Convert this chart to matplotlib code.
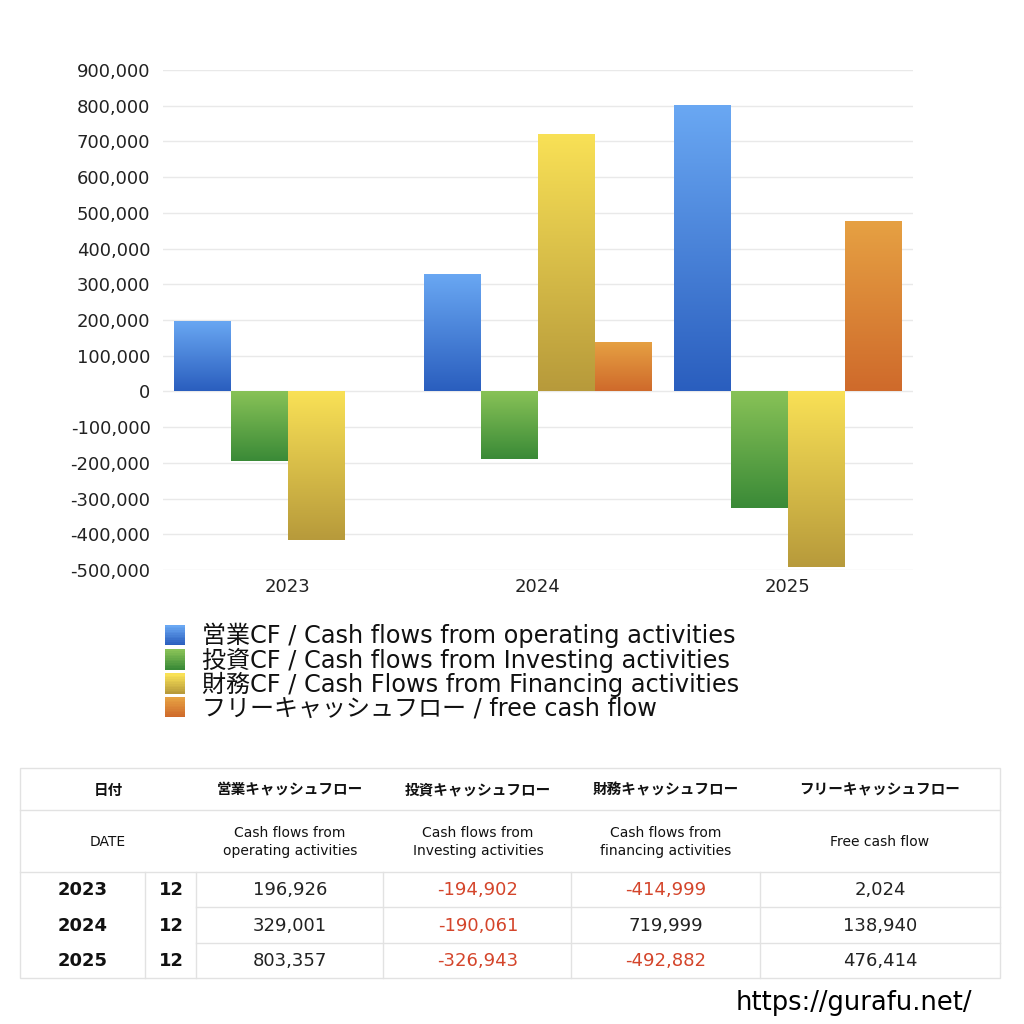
import numpy as np
import matplotlib
matplotlib.use("Agg")
import matplotlib.pyplot as plt
from matplotlib.patches import Rectangle
from matplotlib.legend_handler import HandlerBase
from matplotlib.colors import LinearSegmentedColormap, to_rgb
from matplotlib.ticker import FuncFormatter

plt.rcParams['font.family'] = ['DejaVu Sans', 'Noto Sans CJK JP']

###################################################################################################
# Data
###################################################################################################
years = ['2023', '2024', '2025']
months = ['12', '12', '12']
operating = [196926, 329001, 803357]
investing = [-194902, -190061, -326943]
financing = [-414999, 719999, -492882]
free_cf = [2024, 138940, 476414]

series = [operating, investing, financing, free_cf]
legend_labels = ['営業CF / Cash flows from operating activities',
                 '投資CF / Cash flows from Investing activities',
                 '財務CF / Cash Flows from Financing activities',
                 'フリーキャッシュフロー / free cash flow']
# (top colour, bottom colour) of each gradient
grad_colors = [('#6aa8f3', '#2a5ebe'),
               ('#88c257', '#3a8a37'),
               ('#f9e156', '#b79a3b'),
               ('#e6a143', '#cf6a2b')]

head_jp = ['日付', '営業キャッシュフロー', '投資キャッシュフロー', '財務キャッシュフロー', 'フリーキャッシュフロー']
head_en = ['DATE', 'Cash flows from\noperating activities', 'Cash flows from\nInvesting activities',
           'Cash flows from\nfinancing activities', 'Free cash flow']

###################################################################################################
# Helper Functions
###################################################################################################
W, H = 1024, 1024

def fx(px):
    return px / W

def fy(py):
    return 1 - py / H

def make_cmap(top, bottom):
    return LinearSegmentedColormap.from_list('g', [to_rgb(bottom), to_rgb(top)])

class GradientHandler(HandlerBase):
    def __init__(self, top, bottom):
        super().__init__()
        self.top = np.array(to_rgb(top))
        self.bottom = np.array(to_rgb(bottom))

    def create_artists(self, legend, orig_handle, xdescent, ydescent, width, height, fontsize, trans):
        n = 12
        side = height * 1.05
        y0 = -ydescent + (height - side) / 2
        arts = []
        for i in range(n):
            t = i / (n - 1)
            c = self.bottom * (1 - t) + self.top * t
            r = Rectangle((-xdescent, y0 + side * i / n), width, side / n + 0.3,
                          facecolor=c, edgecolor='none', transform=trans)
            arts.append(r)
        return arts

###################################################################################################
# Main
###################################################################################################
fig = plt.figure(figsize=(10.24, 10.24), dpi=100)
fig.patch.set_facecolor('white')

ax = fig.add_axes([fx(163), fy(570), fx(913 - 163), (570 - 70) / H])
x = np.arange(len(years))
bw = 0.228
offsets = (np.arange(4) - 1.5) * bw

handles = []
grad = np.linspace(0, 1, 256).reshape(-1, 1)
for k, vals in enumerate(series):
    bars = ax.bar(x + offsets[k], vals, width=bw, color='none', edgecolor='none')
    cmap = make_cmap(*grad_colors[k])
    for b in bars:
        x0, y0 = b.get_x(), b.get_y()
        w, h = b.get_width(), b.get_height()
        ylo, yhi = min(y0, y0 + h), max(y0, y0 + h)
        im = ax.imshow(grad, cmap=cmap, origin='lower', aspect='auto',
                       extent=(x0, x0 + w, ylo, yhi), zorder=2, interpolation='bilinear')
        im.set_clip_path(b)
    handles.append(bars)

ax.set_xlim(-0.5, 2.5)
ax.set_ylim(-500000, 900000)
ax.set_yticks(np.arange(-500000, 900001, 100000))
ax.yaxis.set_major_formatter(FuncFormatter(lambda v, p: f'{int(v):,}'))
ax.set_xticks(x)
ax.set_xticklabels(years)
ax.tick_params(length=0, labelsize=13, colors='#222222', pad=6)
ax.tick_params(axis='y', pad=9)
ax.grid(axis='y', color='#e9e9e9', linewidth=1)
ax.set_axisbelow(True)
for s in ax.spines.values():
    s.set_visible(False)

leg = fig.legend(handles, legend_labels, loc='upper left', bbox_to_anchor=(fx(153), fy(611)),
                 frameon=False, fontsize=17.3, handlelength=0.85, handleheight=0.85,
                 handletextpad=0.7, labelspacing=-0.03, borderpad=0,
                 handler_map={h: GradientHandler(*grad_colors[i]) for i, h in enumerate(handles)})
for t in leg.get_texts():
    t.set_color('#111111')

# table
tab = fig.add_axes([0, 0, 1, 1])
tab.set_xlim(0, W)
tab.set_ylim(H, 0)
tab.axis('off')
lc = '#e2e2e2'
tab.add_patch(Rectangle((20, 768), 980, 210, facecolor='none', edgecolor=lc, lw=1))
for yy in [810, 872]:
    tab.plot([20, 1000], [yy, yy], color=lc, lw=1)
for yy in [907, 943]:
    tab.plot([196, 1000], [yy, yy], color=lc, lw=1)
for xx in [145, 196, 383, 571, 760]:
    tab.plot([xx, xx], [872, 978], color=lc, lw=1)

col_cx = [108, 290, 478, 666, 880]
for i in range(5):
    tab.text(col_cx[i], 790, head_jp[i], ha='center', va='center', fontsize=10.5,
             fontweight='bold', color='#111111')
    tab.text(col_cx[i], 842, head_en[i], ha='center', va='center', fontsize=10,
             color='#111111', linespacing=1.4)

row_cy = [890, 926, 961]
for r in range(len(years)):
    tab.text(83, row_cy[r], years[r], ha='center', va='center', fontsize=13,
             fontweight='bold', color='#111111')
    tab.text(171, row_cy[r], months[r], ha='center', va='center', fontsize=13,
             fontweight='bold', color='#111111')
    for k, vals in enumerate(series):
        v = vals[r]
        tab.text(col_cx[k + 1], row_cy[r], f'{v:,}', ha='center', va='center', fontsize=13,
                 color='#d4452b' if v < 0 else '#222222')

tab.text(972, 1003, 'https://gurafu.net/', ha='right', va='center', fontsize=18.5,
         color='#000000')

fig.savefig('out.png', dpi=100, facecolor='white')
